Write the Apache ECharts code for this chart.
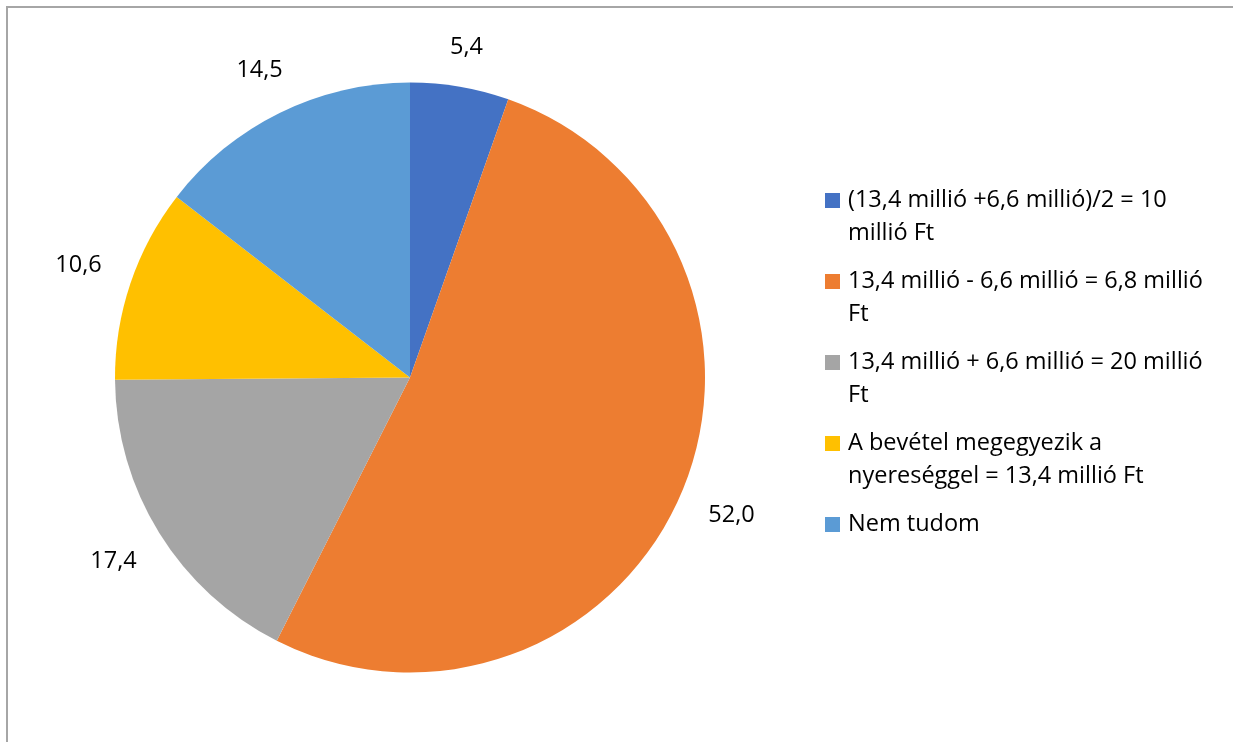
<!DOCTYPE html>
<html>
<head>
<meta charset="utf-8">
<script src="https://cdn.jsdelivr.net/npm/echarts@6/dist/echarts.min.js"></script>
<style>
  html, body { margin: 0; padding: 0; background: #fff; }
  #chart { width: 1233px; height: 742px; }
</style>
</head>
<body>
<div id="chart"></div>
<script>
const categories = [
  "(13,4 millió +6,6 millió)/2 = 10 millió Ft",
  "13,4 millió - 6,6 millió = 6,8 millió Ft",
  "13,4 millió + 6,6 millió = 20 millió Ft",
  "A bevétel megegyezik a nyereséggel = 13,4 millió Ft",
  "Nem tudom"
];
const values = [5.4, 52.0, 17.4, 10.6, 14.5];
const colors = ["#4472C4", "#ED7D31", "#A5A5A5", "#FFC000", "#5B9BD5"];
const legendLines = [
  ["(13,4 millió +6,6 millió)/2 = 10", "millió Ft"],
  ["13,4 millió - 6,6 millió = 6,8 millió", "Ft"],
  ["13,4 millió + 6,6 millió = 20 millió", "Ft"],
  ["A bevétel megegyezik a", "nyereséggel = 13,4 millió Ft"],
  ["Nem tudom"]
];

const FONT = "Open Sans";
const FS = 23.5;
const CX = 410, CY = 377.5, R = 295, GAP = 31;
const total = values.reduce((a, b) => a + b, 0);

function midAngle(i) {
  let cum = 0;
  for (let j = 0; j < i; j++) cum += values[j];
  return (cum + values[i] / 2) / total * Math.PI * 2;
}

const rich = {
  t: { fontFamily: FONT, fontSize: FS, color: "#000", lineHeight: 33 },
  g: { width: 8 },
  sp: { width: 23 }
};
colors.forEach((c, i) => { rich["m" + i] = { width: 15, height: 15, backgroundColor: c }; });

const chart = echarts.init(document.getElementById("chart"), null, { renderer: "canvas" });
chart.setOption({
  animation: false,
  backgroundColor: "#fff",
  graphic: [{
    type: "rect",
    shape: { x: 7, y: 7, width: 1400, height: 900 },
    style: { fill: "none", stroke: "#a6a6a6", lineWidth: 2 },
    silent: true,
    z: -1
  }],
  legend: {
    orient: "vertical",
    left: 820,
    top: 184,
    padding: 0,
    itemGap: 15,
    itemWidth: 0,
    itemHeight: 15,
    icon: "none",
    selectedMode: false,
    data: categories,
    formatter: function (name) {
      const i = categories.indexOf(name);
      return legendLines[i].map((l, k) => (k === 0 ? "{m" + i + "|}{g|}" : "{sp|}") + "{t|" + l + "}").join("\n");
    },
    textStyle: { fontFamily: FONT, fontSize: FS, color: "#000", lineHeight: 33, rich: rich }
  },
  series: [{
    type: "pie",
    center: [CX, CY],
    radius: R,
    startAngle: 90,
    clockwise: true,
    avoidLabelOverlap: false,
    silent: true,
    data: categories.map((name, i) => ({ name: name, value: values[i], itemStyle: { color: colors[i] } })),
    itemStyle: { borderWidth: 0 },
    label: {
      show: true,
      position: "outside",
      fontFamily: FONT,
      fontSize: FS,
      color: "#000",
      formatter: function (p) { return p.value.toFixed(1).replace(".", ","); }
    },
    labelLine: { show: false },
    labelLayout: function (p) {
      const a = midAngle(p.dataIndex);
      const ux = Math.sin(a), uy = -Math.cos(a);
      const w = p.labelRect.width, h = p.labelRect.height * 0.5;
      const d = R + GAP + Math.abs(ux) * w / 2 + Math.abs(uy) * h / 2;
      return { x: CX + d * ux, y: CY + d * uy, align: "center", verticalAlign: "middle" };
    }
  }]
});
</script>
</body>
</html>
